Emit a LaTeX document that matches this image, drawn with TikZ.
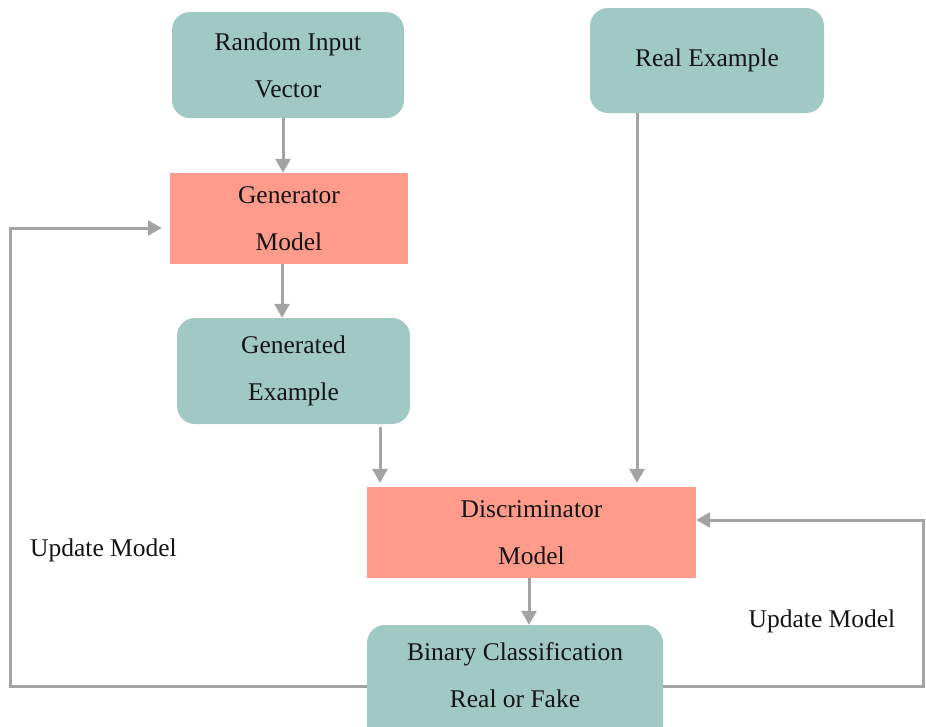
\documentclass[tikz,border=0pt]{standalone}
\usepackage{fontspec}
\setmainfont{Liberation Serif}
\usetikzlibrary{arrows.meta}
\definecolor{boxteal}{HTML}{A1C9C3}
\definecolor{boxsalmon}{HTML}{FF9B8B}
\definecolor{linegray}{HTML}{A3A3A3}
\begin{document}
\begin{tikzpicture}[x=1pt,y=-1pt,
  txt/.style={font=\fontsize{25.5}{47}\selectfont, align=center, inner sep=0pt, text=black!92},
  stage/.style={txt, fill=boxteal, rounded corners=18pt},
  model/.style={txt, fill=boxsalmon},
  flow/.style={draw=linegray, line width=3pt, -{Triangle[length=14pt,width=15pt]}}
]
\useasboundingbox (0,0) rectangle (926,726);
\clip (0,0) rectangle (926,726);

% boxes
\node[stage, minimum width=232pt, minimum height=106pt] (rand) at (288,65) {Random Input\\Vector};
\node[model, minimum width=238pt, minimum height=91pt] (gen) at (289,218.5) {Generator\\Model};
\node[stage, minimum width=233pt, minimum height=106pt] (gex) at (293.5,371) {Generated\\Example};
\node[stage, minimum width=234pt, minimum height=105pt] (real) at (707,60.5) {Real Example};
\node[model, minimum width=329pt, minimum height=91pt] (disc) at (531.5,532.5) {Discriminator\\Model};
\node[stage, minimum width=296pt, minimum height=130pt] (bin) at (515,690) {};
\node[txt] (bintext) at (515,675) {Binary Classification\\Real or Fake};

% side labels
\node[txt] (updL) at (103.5,550) {Update Model};
\node[txt] (updR) at (822,621) {Update Model};

% arrow columns and loop corners
\coordinate (c1) at (283,0);
\coordinate (c2) at (282,0);
\coordinate (c3) at (380,0);
\coordinate (c4) at (637,0);
\coordinate (c5) at (529,0);
\coordinate (lowL) at (10,686);
\coordinate (upL) at (10,228);
\coordinate (lowR) at (923,686);
\coordinate (upR) at (923,520);

% forward flow
\draw[flow] (rand.south -| c1) -- (gen.north -| c1);
\draw[flow] (gen.south -| c2) -- (gex.north -| c2);
\draw[flow, shorten <=3pt, shorten >=4pt] (gex.south -| c3) -- (disc.north -| c3);
\draw[flow, shorten >=4pt] (real.south -| c4) -- (disc.north -| c4);
\draw[flow] (disc.south -| c5) -- (bin.north -| c5);

% feedback loops
\draw[flow, shorten >=8pt] (bin.west |- lowL) -- (lowL) -- (upL) -- (gen.west |- upL);
\draw[flow] (bin.east |- lowR) -- (lowR) -- (upR) -- (disc.east |- upR);
\end{tikzpicture}
\end{document}
